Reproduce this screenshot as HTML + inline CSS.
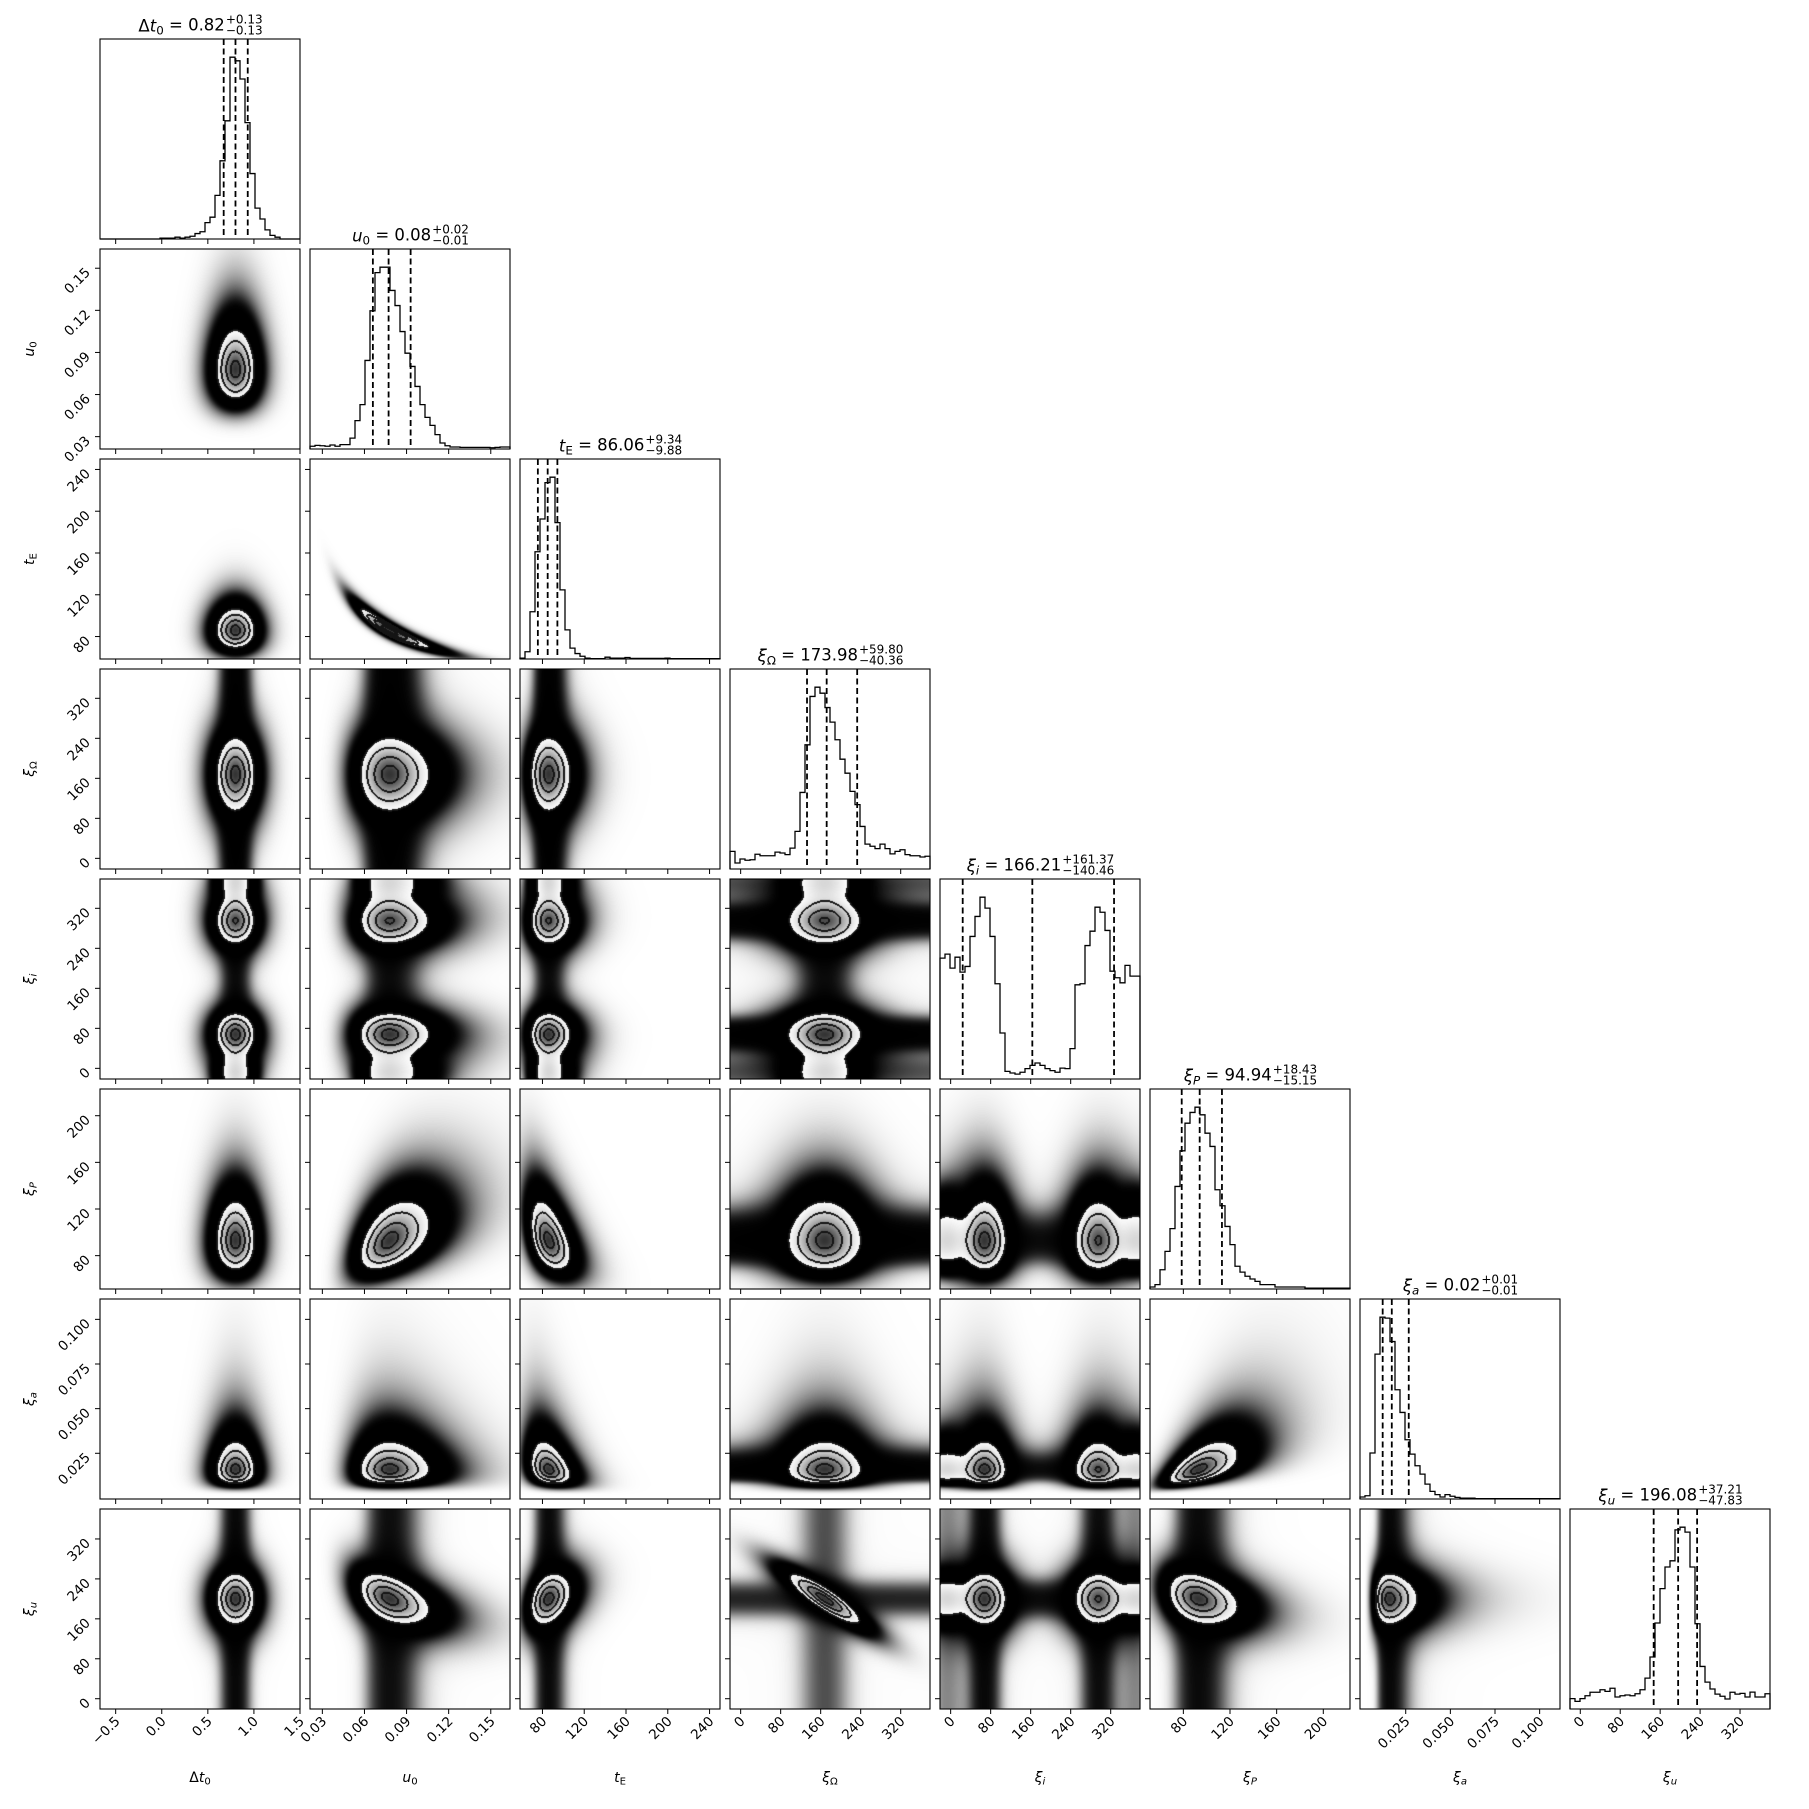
<!DOCTYPE html>
<html><head><meta charset="utf-8">
<style>
html,body{margin:0;padding:0;background:#fff;}
#wrap{position:relative;width:1809px;height:1809px;overflow:hidden;}
#dens{position:absolute;left:0;top:0;}
#plot{position:absolute;left:0;top:0;}
text{font-family:"DejaVu Sans","Liberation Sans",sans-serif;fill:#000;}
</style></head>
<body>
<div id="wrap">
<canvas id="dens" width="1809" height="1809"></canvas>
<svg id="plot" width="1809" height="1809" xmlns="http://www.w3.org/2000/svg"></svg>
</div>
<script>
// ---------- data ----------
const paramKeys = ['dt0','u0','tE','xiOmega','xii','xiP','xia','xiu'];
const rangeMin = [-0.67, 0.0212, 58.5, -21.3, -21.3, 51.4, -0.0006, -20.6];
const rangeMax = [1.5, 0.1637, 250, 378.6, 378.6, 222.9, 0.1114, 380];

const histDt0 = [0,0,0,0,0,0,0,0,0,0,0,0,5,5,5,10,5,10,15,30,40,90,120,240,430,650,1000,980,880,640,360,170,110,50,20,10,0,0,0,0];
const histU0 = [15,20,18,15,22,15,24,24,60,156,244,487,760,970,1000,1000,872,789,646,527,454,344,244,174,130,79,33,18,11,11,9,9,9,9,9,9,7,9,11,11];
const histTE = [5,40,260,590,770,970,1000,750,380,160,60,30,15,5,2,2,2,10,5,5,5,8,3,3,3,3,3,3,3,5,2,2,2,2,2,2,2,2,2,2];
const histXiOmega = [97,33,55,48,51,81,73,73,73,93,88,79,115,207,421,683,949,1000,967,888,808,711,604,527,427,354,234,137,125,112,137,112,83,97,106,79,73,73,66,70];
const histXii = [665,687,610,670,588,619,784,894,1000,940,784,524,253,42,33,27,37,57,75,88,75,57,46,37,60,57,167,518,524,734,813,945,917,817,593,557,529,625,566,566];
const histXiP = [11,24,106,207,332,564,760,912,971,1000,958,857,784,546,458,344,244,125,93,70,55,42,24,24,24,11,11,11,11,11,11,5,5,5,5,5,5,5,5,5];
const histXia = [11,18,253,797,1000,995,866,601,476,326,247,183,137,82,42,24,11,24,15,9,5,5,5,2,2,2,2,2,2,2,2,2,2,2,2,2,2,2,2,2];
const histXiu = [57,42,57,73,92,92,106,97,114,66,73,77,73,84,106,170,286,473,662,781,815,985,1000,973,781,469,234,148,110,82,70,55,92,82,86,66,93,66,66,84];
const histCounts = [histDt0,histU0,histTE,histXiOmega,histXii,histXiP,histXia,histXiu];

const q16 = [0.672, 0.066, 75.6, 132.7, 24.1, 78.6, 0.0121, 147];
const q50 = [0.80, 0.0772, 85, 172, 163.3, 94, 0.0172, 196];
const q84 = [0.933, 0.0929, 94.3, 233, 326.7, 113.1, 0.0267, 234];

const titleValues = ['0.82','0.08','86.06','173.98','166.21','94.94','0.02','196.08'];
const titlePlus = ['+0.13','+0.02','+9.34','+59.80','+161.37','+18.43','+0.01','+37.21'];
const titleMinus = ['\u22120.13','\u22120.01','\u22129.88','\u221240.36','\u2212140.46','\u221215.15','\u22120.01','\u221247.83'];

const tickValues = [[-0.5,0,0.5,1,1.5],[0.03,0.06,0.09,0.12,0.15],[80,120,160,200,240],[0,80,160,240,320],[0,80,160,240,320],[80,120,160,200],[0.025,0.05,0.075,0.1],[0,80,160,240,320]];
const tickLabels = [['\u22120.5','0.0','0.5','1.0','1.5'],['0.03','0.06','0.09','0.12','0.15'],['80','120','160','200','240'],['0','80','160','240','320'],['0','80','160','240','320'],['80','120','160','200'],['0.025','0.050','0.075','0.100'],['0','80','160','240','320']];

// 2D density model
const modeCenters = [[0.80],[0.078],[86],[168],[-8,68,295,372],[93],[0.016],[200]];
const modeSigmas = [[0.10],[0.15],[0.105],[34],[28,20,22,28],[0.15],[0.33],[24]];
const modeWeights = [[1],[1],[1],[1],[0.15,0.35,0.35,0.15],[1],[1],[1]];
const useLog = [false,true,true,false,false,true,true,false];
const bgWeight = [0,0,0,0.2,0.08,0,0,0.2];
const corrRow = [2,5,5,6,6,7,7,7,7];
const corrCol = [1,1,2,2,5,1,2,3,5];
const corrRho = [-0.95,0.45,-0.45,-0.3,0.6,-0.45,0.3,-0.88,-0.3];

// ---------- layout ----------
const N = 8, X0 = 100, Y0 = 39, PITCH = 210, SZ = 200;
const NS = 'http://www.w3.org/2000/svg';
const svg = document.getElementById('plot');
function mk(tag, attrs, parent){ const e=document.createElementNS(NS,tag); for(const k in attrs) e.setAttribute(k,attrs[k]); (parent||svg).appendChild(e); return e; }
function xpix(k,v){ return X0+PITCH*k + (v-rangeMin[k])/(rangeMax[k]-rangeMin[k])*SZ; }
function ypix(k,row,v){ return Y0+PITCH*row + SZ - (v-rangeMin[k])/(rangeMax[k]-rangeMin[k])*SZ; }

// ---------- density ----------
function tz(k,v){ return useLog[k] ? Math.log(Math.max(v,1e-4)) : v; }
function cen(k,a){ return useLog[k] ? Math.log(modeCenters[k][a]) : modeCenters[k][a]; }
function g1(z){ return 0.9*Math.exp(-z*z/2) + 0.1/2.2*Math.exp(-z*z/9.68); }
function g2(zx,zy,r){ const q=(zx*zx-2*r*zx*zy+zy*zy)/(1-r*r); return (0.9*Math.exp(-q/2)+0.1/4.84*Math.exp(-q/9.68))/Math.sqrt(1-r*r); }
function rhoOf(i,j){ for(let n=0;n<corrRow.length;n++){ if(corrRow[n]===i&&corrCol[n]===j) return corrRho[n]; } return 0; }

const ctx = document.getElementById('dens').getContext('2d');
const img = ctx.createImageData(1809,1809);
for(let p=0;p<img.data.length;p+=4){ img.data[p]=255;img.data[p+1]=255;img.data[p+2]=255;img.data[p+3]=255; }
const levels = [0.135,0.32,0.61,0.88];
for(let i=1;i<N;i++){
  for(let j=0;j<i;j++){
    const rho = rhoOf(i,j);
    const bx=bgWeight[j], by=bgWeight[i];
    const Sx = tz(j,rangeMax[j])-tz(j,Math.max(rangeMin[j],1e-4));
    const Sy = tz(i,rangeMax[i])-tz(i,Math.max(rangeMin[i],1e-4));
    const d = new Float64Array(SZ*SZ); let dmax=0;
    for(let py=0;py<SZ;py++){
      const vy = rangeMax[i]-(py+0.5)/SZ*(rangeMax[i]-rangeMin[i]);
      const ty = tz(i,vy);
      for(let px=0;px<SZ;px++){
        const vx = rangeMin[j]+(px+0.5)/SZ*(rangeMax[j]-rangeMin[j]);
        const tx = tz(j,vx);
        let s=0, sxm=0, sym=0;
        for(let a=0;a<modeCenters[j].length;a++){
          const zx=(tx-cen(j,a))/modeSigmas[j][a];
          sxm += modeWeights[j][a]*g1(zx)/modeSigmas[j][a];
          for(let b=0;b<modeCenters[i].length;b++){
            const zy=(ty-cen(i,b))/modeSigmas[i][b];
            s += modeWeights[j][a]*modeWeights[i][b]*g2(zx,zy,rho)/(modeSigmas[j][a]*modeSigmas[i][b]);
          }
        }
        for(let b=0;b<modeCenters[i].length;b++){
          const zy=(ty-cen(i,b))/modeSigmas[i][b];
          sym += modeWeights[i][b]*g1(zy)/modeSigmas[i][b];
        }
        const val = (1-bx)*(1-by)*s + bx/Sx*(1-by)*sym + (1-bx)*by/Sy*sxm + bx*by/(Sx*Sy);
        d[py*SZ+px]=val; if(val>dmax) dmax=val;
      }
    }
    const ox = X0+PITCH*j, oy = Y0+PITCH*i;
    const lineMask = new Uint8Array(SZ*SZ);
    for(let py=0;py<SZ;py++){
      for(let px=0;px<SZ;px++){
        const r = d[py*SZ+px]/dmax;
        const rr = px<SZ-1 ? d[py*SZ+px+1]/dmax : r;
        const rd = py<SZ-1 ? d[(py+1)*SZ+px]/dmax : r;
        for(const L of levels){
          if((r-L)*(rr-L)<0){ lineMask[py*SZ+px]=1; if(px<SZ-1) lineMask[py*SZ+px+1]=1; }
          if((r-L)*(rd-L)<0){ lineMask[py*SZ+px]=1; if(py<SZ-1) lineMask[(py+1)*SZ+px]=1; }
        }
      }
    }
    for(let py=0;py<SZ;py++){
      for(let px=0;px<SZ;px++){
        const r = d[py*SZ+px]/dmax;
        let v;
        if(r<levels[0]) v = 255*Math.exp(-Math.pow(r/0.007,1.5));
        else v = 252 - 200*Math.pow((r-levels[0])/(1-levels[0]),1.1);
        if(lineMask[py*SZ+px]) v=20;
        const idx = ((oy+py)*1809+(ox+px))*4;
        img.data[idx]=v; img.data[idx+1]=v; img.data[idx+2]=v;
      }
    }
  }
}
ctx.putImageData(img,0,0);

// ---------- histograms ----------
for(let k=0;k<N;k++){
  const h = histCounts[k]; const nb=h.length; const hm=Math.max(...h);
  const x0=X0+PITCH*k, y1=Y0+PITCH*k+SZ;
  let dpath = 'M'+x0+','+y1;
  for(let b=0;b<nb;b++){
    const xa=x0+b*SZ/nb, xb=x0+(b+1)*SZ/nb, yy=y1-h[b]/hm*SZ/1.1;
    dpath += ' L'+xa.toFixed(2)+','+yy.toFixed(2)+' L'+xb.toFixed(2)+','+yy.toFixed(2);
  }
  dpath += ' L'+(x0+SZ)+','+y1;
  const hp = mk('path',{d:dpath,fill:'none',stroke:'#000','stroke-width':1.3});
  
  
  const qs=[q16[k],q50[k],q84[k]];
  for(let q=0;q<3;q++){
    const xq=xpix(k,qs[q]);
    const ql = mk('line',{x1:xq,x2:xq,y1:Y0+PITCH*k,y2:y1,stroke:'#000','stroke-width':1.8,'stroke-dasharray':'6,3.5'});
    
    
  }
}

// ---------- frames & ticks ----------
for(let i=0;i<N;i++){
  for(let j=0;j<=i;j++){
    const x0=X0+PITCH*j, y0=Y0+PITCH*i;
    const fr = mk('rect',{x:x0,y:y0,width:SZ,height:SZ,fill:'none',stroke:'#000','stroke-width':1.1});
    
    
    tickValues[j].forEach((tv,n)=>{
      const tx=xpix(j,tv);
      const t=mk('line',{x1:tx,x2:tx,y1:y0+SZ,y2:y0+SZ+5,stroke:'#000','stroke-width':1});
      
      
      if(i===N-1){
        const tl=mk('text',{'font-size':13.5,'text-anchor':'end',transform:'translate('+(tx+5)+','+(y0+SZ+13)+') rotate(-45)'});
        tl.textContent=tickLabels[j][n];
        
        
      }
    });
    if(i!==j){
      tickValues[i].forEach((tv,n)=>{
        const ty=ypix(i,i,tv);
        const t=mk('line',{x1:x0-5,x2:x0,y1:ty,y2:ty,stroke:'#000','stroke-width':1});
        
        
        if(j===0){
          const tl=mk('text',{'font-size':13.5,'text-anchor':'end',transform:'translate('+(x0-9)+','+(ty+5)+') rotate(-45)'});
          tl.textContent=tickLabels[i][n];
          
          
        }
      });
    }
  }
}

// ---------- labels ----------
function labelParts(k){
  return [['t',true,'0',false,'\u0394'],['u',true,'0',false,''],['t',true,'E',false,''],['\u03be',true,'\u03a9',false,''],['\u03be',true,'i',true,''],['\u03be',true,'P',true,''],['\u03be',true,'a',true,''],['\u03be',true,'u',true,'']][k];
}
function fillLabel(t,k){
  const p=labelParts(k);
  if(p[4]){ const s0=mk('tspan',{},t); s0.textContent=p[4]; }
  const s1=mk('tspan',{'font-style':p[1]?'italic':'normal'},t); s1.textContent=p[0];
  const s2=mk('tspan',{'font-size':'72%',dy:'0.25em','font-style':p[3]?'italic':'normal'},t); s2.textContent=p[2];
}
for(let k=0;k<N;k++){
  const xl=mk('text',{x:X0+PITCH*k+SZ/2,y:1782,'font-size':14,'text-anchor':'middle'});
  
  
  fillLabel(xl,k);
  if(k>0){
    const cy=Y0+PITCH*k+SZ/2;
    const yl=mk('text',{'font-size':14,'text-anchor':'middle',transform:'translate(34,'+cy+') rotate(-90)'});
    
    
    fillLabel(yl,k);
  }
  const cx=X0+PITCH*k+SZ/2, by=Y0+PITCH*k-7.5;
  const tt=mk('text',{x:0,y:by,'font-size':16.5});
  
  
  fillLabel(tt,k);
  const eq=mk('tspan',{dy:'-0.25em','font-size':'100%'},tt); eq.textContent=' = '+titleValues[k];
  const sp=mk('text',{x:0,y:by-8,'font-size':12});
  sp.textContent=titlePlus[k];
  
  
  const sb=mk('text',{x:0,y:by+3,'font-size':12});
  sb.textContent=titleMinus[k];
  
  
  const mw=tt.getComputedTextLength(), sw=Math.max(sp.getComputedTextLength(),sb.getComputedTextLength());
  const start=cx-(mw+sw)/2;
  tt.setAttribute('x',start); sp.setAttribute('x',start+mw+1); sb.setAttribute('x',start+mw+1);
}
</script>
</body></html>
